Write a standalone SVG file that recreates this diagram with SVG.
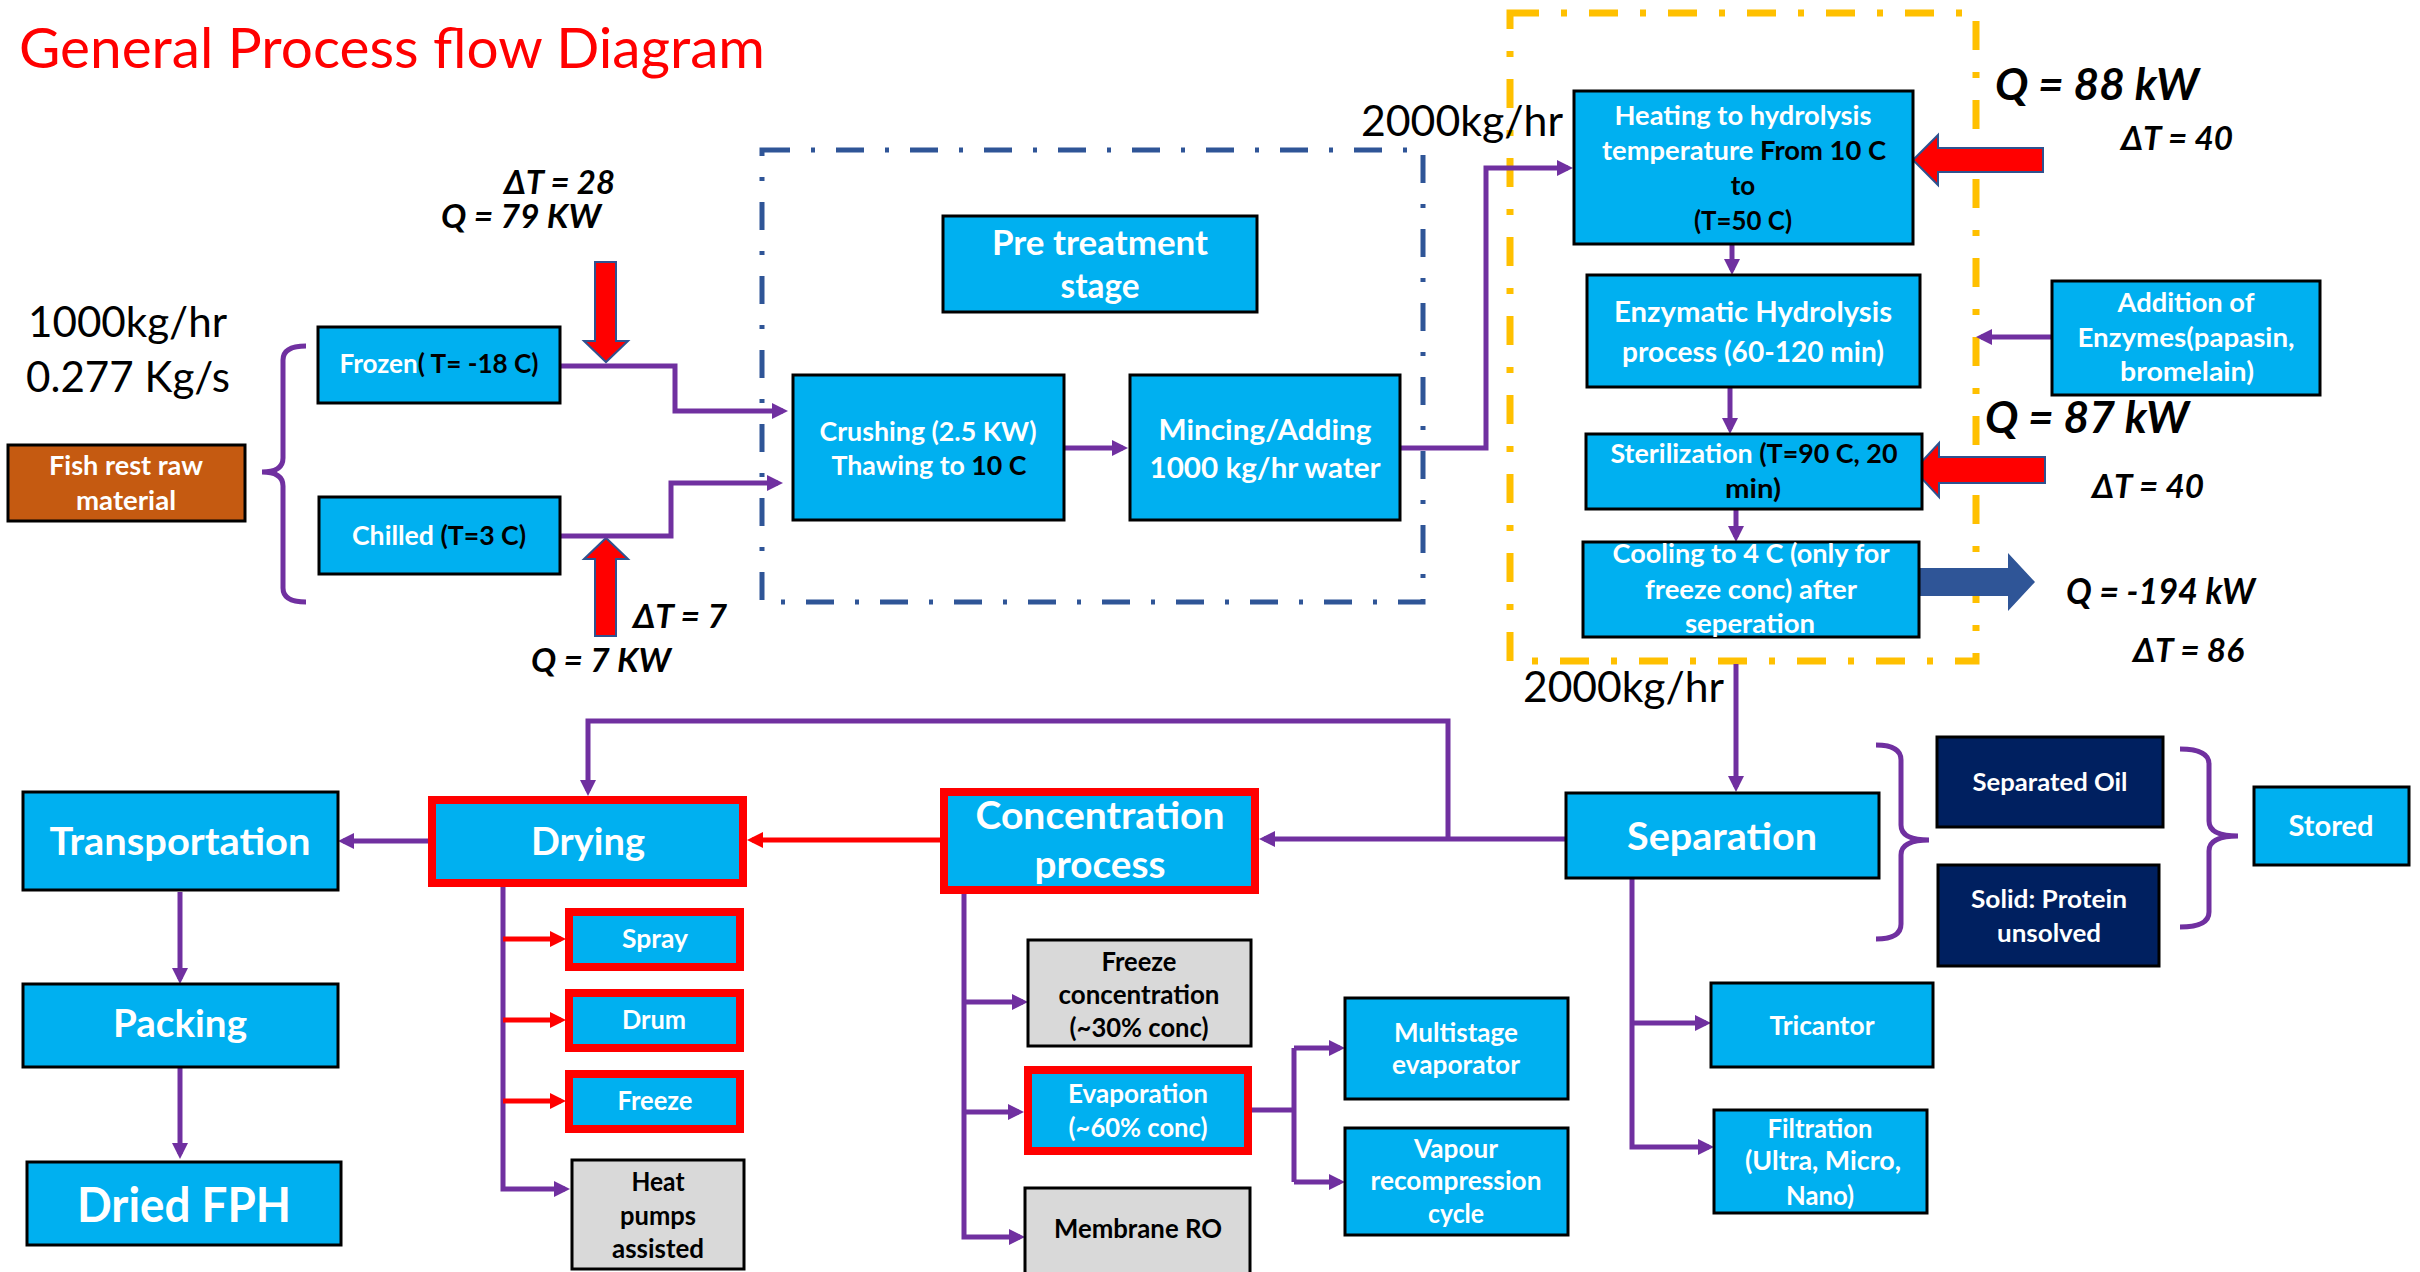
<svg xmlns="http://www.w3.org/2000/svg" width="2420" height="1272" viewBox="0 0 2420 1272">
<style>
.box{fill:#00B0F0;stroke:#000;stroke-width:3}
.grey{fill:#D9D9D9;stroke:#000;stroke-width:3}
.navy{fill:#002060;stroke:#000;stroke-width:3}
.redbox{fill:#00B0F0;stroke:#FF0000;stroke-width:8}
.lbl{font-family:Lato,"Liberation Sans",sans-serif;font-weight:bold;fill:#fff;text-anchor:middle}
.blk{fill:#000}
.conn{fill:none;stroke:#7030A0;stroke-width:5}
.rconn{fill:none;stroke:#FF0000;stroke-width:5}
.q{font-family:Lato,"Liberation Sans",sans-serif;font-weight:bold;font-style:italic;fill:#000}
.plain{font-family:Lato,"Liberation Sans",sans-serif;fill:#000}
.heat{fill:#FF0000;stroke:#2F528F;stroke-width:2}
</style>
<defs>
<marker id="ap" markerUnits="userSpaceOnUse" markerWidth="16" markerHeight="16" refX="11" refY="8" orient="auto"><path d="M0,0 L16,8 L0,16 z" fill="#7030A0"/></marker>
<marker id="ar" markerUnits="userSpaceOnUse" markerWidth="16" markerHeight="16" refX="11" refY="8" orient="auto"><path d="M0,0 L16,8 L0,16 z" fill="#FF0000"/></marker>
</defs>
<rect width="2420" height="1272" fill="#fff"/>

<text id="title" x="19" y="68" font-family="Lato,'Liberation Sans',sans-serif" font-size="56" fill="#FF0000" textLength="746" lengthAdjust="spacingAndGlyphs">General Process flow Diagram</text>

<g id="frames">
<rect id="pretreat-frame" x="762" y="150" width="661" height="452" fill="none" stroke="#2F5597" stroke-width="5" stroke-dasharray="28 21 4 21"/>
<rect id="hydrolysis-frame" x="1510" y="13" width="466" height="648" fill="none" stroke="#FFC000" stroke-width="7" stroke-dasharray="29 22 6 22"/>
</g>

<g id="labels">
<text class="plain" x="28" y="337" font-size="43" textLength="199" lengthAdjust="spacingAndGlyphs">1000kg/hr</text>
<text class="plain" x="26" y="392" font-size="43" textLength="204" lengthAdjust="spacingAndGlyphs">0.277 Kg/s</text>
<text class="plain" x="1361" y="136" font-size="43" textLength="202" lengthAdjust="spacingAndGlyphs">2000kg/hr</text>
<text class="plain" x="1523" y="702" font-size="43" textLength="201" lengthAdjust="spacingAndGlyphs">2000kg/hr</text>
<text class="q" x="504" y="194" font-size="33" textLength="111" lengthAdjust="spacingAndGlyphs">ΔT = 28</text>
<text class="q" x="441" y="228" font-size="33" textLength="160" lengthAdjust="spacingAndGlyphs">Q = 79 KW</text>
<text class="q" x="633" y="628" font-size="33" textLength="94" lengthAdjust="spacingAndGlyphs">ΔT = 7</text>
<text class="q" x="531" y="672" font-size="33" textLength="140" lengthAdjust="spacingAndGlyphs">Q = 7 KW</text>
<text class="q" x="1995" y="100" font-size="44" textLength="204" lengthAdjust="spacingAndGlyphs">Q = 88 kW</text>
<text class="q" x="2121" y="150" font-size="33" textLength="112" lengthAdjust="spacingAndGlyphs">ΔT = 40</text>
<text class="q" x="1985" y="433" font-size="44" textLength="204" lengthAdjust="spacingAndGlyphs">Q = 87 kW</text>
<text class="q" x="2092" y="498" font-size="33" textLength="112" lengthAdjust="spacingAndGlyphs">ΔT = 40</text>
<text class="q" x="2066" y="604" font-size="37" textLength="189" lengthAdjust="spacingAndGlyphs">Q = -194 kW</text>
<text class="q" x="2133" y="662" font-size="33" textLength="111" lengthAdjust="spacingAndGlyphs">ΔT = 86</text>
</g>

<g id="heat-arrows">
<polygon id="heat-q79" class="heat" points="595,262 616,262 616,341 628,341 606,362 584,341 595,341"/>
<polygon id="heat-q7" class="heat" points="584,559 606,538 628,559 616,559 616,636 595,636 595,559"/>
<polygon id="heat-q88" class="heat" points="1913,160 1938,135 1938,148 2043,148 2043,172 1938,172 1938,185"/>
<polygon id="heat-q87" class="heat" points="1914,470 1939,443 1939,457 2045,457 2045,483 1939,483 1939,497"/>
<polygon id="cool-q194" points="1919,568 2008,568 2008,553 2035,582 2008,611 2008,596 1919,596" fill="#2F5597"/>
</g>

<g id="connectors">
<path class="conn" d="M306,346 Q283,346 283,360 V458 Q283,472 262,472 Q283,472 283,486 V588 Q283,602 306,602"/>
<path class="conn" d="M560,366 H675 V411 H783" marker-end="url(#ap)"/>
<path class="conn" d="M560,536 H671 V483 H778" marker-end="url(#ap)"/>
<path class="conn" d="M1064,448 H1123" marker-end="url(#ap)"/>
<path class="conn" d="M1400,448 H1486 V168 H1568" marker-end="url(#ap)"/>
<path class="conn" d="M1732,244 V270" marker-end="url(#ap)"/>
<path class="conn" d="M2052,337 H1981" marker-end="url(#ap)"/>
<path class="conn" d="M1730,387 V429" marker-end="url(#ap)"/>
<path class="conn" d="M1736,509 V537" marker-end="url(#ap)"/>
<path class="conn" d="M1736,664 V787" marker-end="url(#ap)"/>
<path class="conn" d="M1876,745 Q1901,745 1901,760 V825 Q1901,840 1929,840 Q1901,840 1901,855 V924 Q1901,939 1876,939"/>
<path class="conn" d="M2180,749 Q2209,749 2209,764 V821 Q2209,836 2238,836 Q2209,836 2209,851 V912 Q2209,927 2180,927"/>
<path class="conn" d="M1566,839 H1264" marker-end="url(#ap)"/>
<path class="conn" d="M1448,839 V721 H588 V791" marker-end="url(#ap)"/>
<path class="rconn" d="M940,840 H752" marker-end="url(#ar)"/>
<path class="conn" d="M428,841 H343" marker-end="url(#ap)"/>
<path class="conn" d="M180,892 V979" marker-end="url(#ap)"/>
<path class="conn" d="M180,1067 V1154" marker-end="url(#ap)"/>
<path class="conn" d="M503,887 V1189 H565" marker-end="url(#ap)"/>
<path class="rconn" d="M503,939 H561" marker-end="url(#ar)"/>
<path class="rconn" d="M503,1020 H561" marker-end="url(#ar)"/>
<path class="rconn" d="M503,1101 H561" marker-end="url(#ar)"/>
<path class="conn" d="M964,894 V1237 H1020" marker-end="url(#ap)"/>
<path class="conn" d="M964,1002 H1023" marker-end="url(#ap)"/>
<path class="conn" d="M964,1112 H1019" marker-end="url(#ap)"/>
<path class="conn" d="M1252,1110 H1294"/>
<path class="conn" d="M1294,1048 V1182"/>
<path class="conn" d="M1294,1048 H1340" marker-end="url(#ap)"/>
<path class="conn" d="M1294,1182 H1340" marker-end="url(#ap)"/>
<path class="conn" d="M1632,878 V1147 H1709" marker-end="url(#ap)"/>
<path class="conn" d="M1632,1023 H1706" marker-end="url(#ap)"/>
</g>

<g id="fish">
<rect x="8" y="445" width="237" height="76" fill="#C55A11" stroke="#000" stroke-width="3"/>
<text class="lbl" x="126" y="475" font-size="26" textLength="154" lengthAdjust="spacingAndGlyphs">Fish rest raw</text>
<text class="lbl" x="126" y="510" font-size="26" textLength="100" lengthAdjust="spacingAndGlyphs">material</text>
</g>
<g id="frozen">
<rect class="box" x="318" y="327" width="242" height="76"/>
<text class="lbl" x="439" y="373" font-size="26" textLength="199" lengthAdjust="spacingAndGlyphs">Frozen<tspan class="blk">( T= -18 C)</tspan></text>
</g>
<g id="chilled">
<rect class="box" x="319" y="497" width="241" height="77"/>
<text class="lbl" x="439" y="545" font-size="26" textLength="174" lengthAdjust="spacingAndGlyphs">Chilled <tspan class="blk">(T=3 C)</tspan></text>
</g>
<g id="pretreat">
<rect class="box" x="943" y="216" width="314" height="96"/>
<text class="lbl" x="1100" y="255" font-size="34" textLength="216" lengthAdjust="spacingAndGlyphs">Pre treatment</text>
<text class="lbl" x="1100" y="298" font-size="34" textLength="79" lengthAdjust="spacingAndGlyphs">stage</text>
</g>
<g id="crushing">
<rect class="box" x="793" y="375" width="271" height="145"/>
<text class="lbl" x="928" y="441" font-size="26" textLength="217" lengthAdjust="spacingAndGlyphs">Crushing (2.5 KW)</text>
<text class="lbl" x="929" y="475" font-size="26" textLength="195" lengthAdjust="spacingAndGlyphs">Thawing to <tspan class="blk">10 C</tspan></text>
</g>
<g id="mincing">
<rect class="box" x="1130" y="375" width="270" height="145"/>
<text class="lbl" x="1265" y="440" font-size="29" textLength="213" lengthAdjust="spacingAndGlyphs">Mincing/Adding</text>
<text class="lbl" x="1265" y="478" font-size="29" textLength="231" lengthAdjust="spacingAndGlyphs">1000 kg/hr water</text>
</g>
<g id="heating">
<rect class="box" x="1574" y="91" width="339" height="153"/>
<text class="lbl" x="1743" y="125" font-size="26" textLength="257" lengthAdjust="spacingAndGlyphs">Heating to hydrolysis</text>
<text class="lbl" x="1744" y="160" font-size="26" textLength="284" lengthAdjust="spacingAndGlyphs">temperature <tspan class="blk">From 10 C</tspan></text>
<text class="lbl blk" x="1743" y="195" font-size="26">to</text>
<text class="lbl blk" x="1743" y="230" font-size="26" textLength="98" lengthAdjust="spacingAndGlyphs">(T=50 C)</text>
</g>
<g id="enzymatic">
<rect class="box" x="1587" y="275" width="333" height="112"/>
<text class="lbl" x="1753" y="322" font-size="29" textLength="278" lengthAdjust="spacingAndGlyphs">Enzymatic Hydrolysis</text>
<text class="lbl" x="1753" y="362" font-size="29" textLength="262" lengthAdjust="spacingAndGlyphs">process (60-120 min)</text>
</g>
<g id="addition">
<rect class="box" x="2052" y="281" width="268" height="114"/>
<text class="lbl" x="2186" y="312" font-size="26" textLength="137" lengthAdjust="spacingAndGlyphs">Addition of</text>
<text class="lbl" x="2186" y="347" font-size="26" textLength="217" lengthAdjust="spacingAndGlyphs">Enzymes(papasin,</text>
<text class="lbl" x="2187" y="381" font-size="26" textLength="134" lengthAdjust="spacingAndGlyphs">bromelain)</text>
</g>
<g id="sterilization">
<rect class="box" x="1586" y="434" width="336" height="75"/>
<text class="lbl" x="1754" y="463" font-size="26" textLength="287" lengthAdjust="spacingAndGlyphs">Sterilization <tspan class="blk">(T=90 C, 20</tspan></text>
<text class="lbl blk" x="1753" y="498" font-size="26" textLength="56" lengthAdjust="spacingAndGlyphs">min)</text>
</g>
<g id="cooling">
<rect class="box" x="1583" y="542" width="336" height="95"/>
<text class="lbl" x="1751" y="563" font-size="26" textLength="277" lengthAdjust="spacingAndGlyphs">Cooling to 4 C (only for</text>
<text class="lbl" x="1751" y="599" font-size="26" textLength="212" lengthAdjust="spacingAndGlyphs">freeze conc) after</text>
<text class="lbl" x="1750" y="633" font-size="26" textLength="130" lengthAdjust="spacingAndGlyphs">seperation</text>
</g>
<g id="separation">
<rect class="box" x="1566" y="793" width="313" height="85"/>
<text class="lbl" x="1722" y="850" font-size="38" textLength="190" lengthAdjust="spacingAndGlyphs">Separation</text>
</g>
<g id="oil">
<rect class="navy" x="1937" y="737" width="226" height="90"/>
<text class="lbl" x="2050" y="791" font-size="25" textLength="155" lengthAdjust="spacingAndGlyphs">Separated Oil</text>
</g>
<g id="solid">
<rect class="navy" x="1938" y="865" width="221" height="101"/>
<text class="lbl" x="2049" y="908" font-size="25" textLength="156" lengthAdjust="spacingAndGlyphs">Solid: Protein</text>
<text class="lbl" x="2049" y="942" font-size="25" textLength="104" lengthAdjust="spacingAndGlyphs">unsolved</text>
</g>
<g id="stored">
<rect class="box" x="2254" y="787" width="155" height="78"/>
<text class="lbl" x="2331" y="836" font-size="28" textLength="85" lengthAdjust="spacingAndGlyphs">Stored</text>
</g>
<g id="concentration">
<rect class="redbox" x="944" y="792" width="311" height="98"/>
<text class="lbl" x="1100" y="829" font-size="38" textLength="249" lengthAdjust="spacingAndGlyphs">Concentration</text>
<text class="lbl" x="1100" y="878" font-size="38" textLength="131" lengthAdjust="spacingAndGlyphs">process</text>
</g>
<g id="drying">
<rect class="redbox" x="432" y="800" width="311" height="83"/>
<text class="lbl" x="588" y="855" font-size="38" textLength="114" lengthAdjust="spacingAndGlyphs">Drying</text>
</g>
<g id="transportation">
<rect class="box" x="23" y="792" width="315" height="98"/>
<text class="lbl" x="180" y="855" font-size="38" textLength="261" lengthAdjust="spacingAndGlyphs">Transportation</text>
</g>
<g id="packing">
<rect class="box" x="23" y="984" width="315" height="83"/>
<text class="lbl" x="180" y="1037" font-size="38" textLength="134" lengthAdjust="spacingAndGlyphs">Packing</text>
</g>
<g id="dried-fph">
<rect class="box" x="27" y="1162" width="314" height="83"/>
<text class="lbl" x="184" y="1222" font-size="47" textLength="214" lengthAdjust="spacingAndGlyphs">Dried FPH</text>
</g>
<g id="spray">
<rect class="redbox" x="569" y="912" width="171" height="55"/>
<text class="lbl" x="655" y="948" font-size="26" textLength="66" lengthAdjust="spacingAndGlyphs">Spray</text>
</g>
<g id="drum">
<rect class="redbox" x="569" y="993" width="171" height="55"/>
<text class="lbl" x="654" y="1029" font-size="26" textLength="64" lengthAdjust="spacingAndGlyphs">Drum</text>
</g>
<g id="freeze">
<rect class="redbox" x="569" y="1074" width="171" height="55"/>
<text class="lbl" x="655" y="1110" font-size="26" textLength="75" lengthAdjust="spacingAndGlyphs">Freeze</text>
</g>
<g id="heat-pumps">
<rect class="grey" x="572" y="1160" width="172" height="109"/>
<text class="lbl blk" x="658" y="1191" font-size="26" textLength="53" lengthAdjust="spacingAndGlyphs">Heat</text>
<text class="lbl blk" x="658" y="1225" font-size="26" textLength="76" lengthAdjust="spacingAndGlyphs">pumps</text>
<text class="lbl blk" x="658" y="1258" font-size="26" textLength="92" lengthAdjust="spacingAndGlyphs">assisted</text>
</g>
<g id="freeze-conc">
<rect class="grey" x="1028" y="940" width="223" height="106"/>
<text class="lbl blk" x="1139" y="971" font-size="26" textLength="75" lengthAdjust="spacingAndGlyphs">Freeze</text>
<text class="lbl blk" x="1139" y="1004" font-size="26" textLength="161" lengthAdjust="spacingAndGlyphs">concentration</text>
<text class="lbl blk" x="1139" y="1037" font-size="26" textLength="139" lengthAdjust="spacingAndGlyphs">(~30% conc)</text>
</g>
<g id="evaporation">
<rect class="redbox" x="1028" y="1070" width="220" height="81"/>
<text class="lbl" x="1138" y="1103" font-size="26" textLength="140" lengthAdjust="spacingAndGlyphs">Evaporation</text>
<text class="lbl" x="1138" y="1137" font-size="26" textLength="139" lengthAdjust="spacingAndGlyphs">(~60% conc)</text>
</g>
<g id="membrane">
<rect class="grey" x="1025" y="1188" width="225" height="95"/>
<text class="lbl blk" x="1138" y="1238" font-size="26" textLength="168" lengthAdjust="spacingAndGlyphs">Membrane RO</text>
</g>
<g id="multistage">
<rect class="box" x="1345" y="998" width="223" height="101"/>
<text class="lbl" x="1456" y="1042" font-size="26" textLength="124" lengthAdjust="spacingAndGlyphs">Multistage</text>
<text class="lbl" x="1456" y="1074" font-size="26" textLength="128" lengthAdjust="spacingAndGlyphs">evaporator</text>
</g>
<g id="vapour">
<rect class="box" x="1345" y="1128" width="223" height="107"/>
<text class="lbl" x="1456" y="1158" font-size="26" textLength="84" lengthAdjust="spacingAndGlyphs">Vapour</text>
<text class="lbl" x="1456" y="1190" font-size="26" textLength="171" lengthAdjust="spacingAndGlyphs">recompression</text>
<text class="lbl" x="1456" y="1223" font-size="26" textLength="56" lengthAdjust="spacingAndGlyphs">cycle</text>
</g>
<g id="tricantor">
<rect class="box" x="1711" y="983" width="222" height="84"/>
<text class="lbl" x="1822" y="1035" font-size="26" textLength="105" lengthAdjust="spacingAndGlyphs">Tricantor</text>
</g>
<g id="filtration">
<rect class="box" x="1714" y="1110" width="213" height="103"/>
<text class="lbl" x="1820" y="1138" font-size="26" textLength="105" lengthAdjust="spacingAndGlyphs">Filtration</text>
<text class="lbl" x="1823" y="1170" font-size="26" textLength="156" lengthAdjust="spacingAndGlyphs">(Ultra, Micro,</text>
<text class="lbl" x="1820" y="1205" font-size="26" textLength="68" lengthAdjust="spacingAndGlyphs">Nano)</text>
</g>
</svg>
